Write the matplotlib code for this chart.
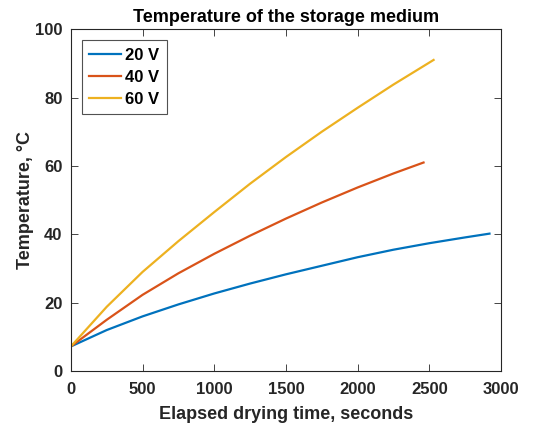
import matplotlib.pyplot as plt

plt.rcParams['font.family'] = ['Liberation Sans', 'DejaVu Sans']
plt.rcParams['font.weight'] = 'bold'

# Values
t_20 = [0, 250, 500, 750, 1000, 1250, 1500, 1750, 2000, 2250, 2500, 2750, 2920]
T_20 = [7.2, 12.0, 16.0, 19.5, 22.7, 25.6, 28.3, 30.8, 33.3, 35.5, 37.4, 39.1, 40.2]

t_40 = [0, 250, 500, 750, 1000, 1250, 1500, 1750, 2000, 2250, 2460]
T_40 = [7.2, 15.0, 22.3, 28.6, 34.3, 39.6, 44.6, 49.3, 53.7, 57.8, 61.0]

t_60 = [0, 250, 500, 750, 1000, 1250, 1500, 1750, 2000, 2250, 2530]
T_60 = [7.2, 18.8, 29.0, 38.0, 46.5, 54.8, 62.6, 70.0, 77.0, 83.8, 91.0]

series = [('20 V', t_20, T_20), ('40 V', t_40, T_40), ('60 V', t_60, T_60)]
colors = ['#0072BD', '#D95319', '#EDB120']

fig = plt.figure(figsize=(5.41, 4.29), dpi=100)
ax = fig.add_axes([0.131, 0.135, 0.795, 0.797])

for (label, t, T), c in zip(series, colors):
    ax.plot(t, T, color=c, lw=1.6, label=label)

ax.set_xlim(0, 3000)
ax.set_ylim(0, 100)
ax.set_xticks(range(0, 3001, 500))
ax.set_yticks(range(0, 101, 20))

gray = '#262626'
for s in ax.spines.values():
    s.set_color(gray)
    s.set_linewidth(0.8)
ax.tick_params(direction='in', length=5, width=0.6, top=True, right=True,
               colors=gray, labelsize=12)
ax.tick_params(axis='x', pad=8)
ax.tick_params(axis='y', pad=6)
for lbl in ax.get_xticklabels() + ax.get_yticklabels():
    lbl.set_fontweight('bold')

ax.set_title('Temperature of the storage medium', fontsize=13, fontweight='bold', pad=5)
ax.set_xlabel('Elapsed drying time, seconds', fontsize=13, fontweight='bold',
              color=gray, labelpad=6)
ax.set_ylabel('Temperature, \u00b0C', fontsize=13, fontweight='bold', color=gray, labelpad=1)

leg = ax.legend(loc='upper left', fontsize=12, frameon=True, fancybox=False,
                handlelength=1.9, handletextpad=0.25, borderpad=0.45, labelspacing=0.42,
                borderaxespad=0.65)
leg.get_frame().set_edgecolor(gray)
leg.get_frame().set_linewidth(0.8)
for txt in leg.get_texts():
    txt.set_fontweight('bold')

fig.savefig('out.png', dpi=100)
